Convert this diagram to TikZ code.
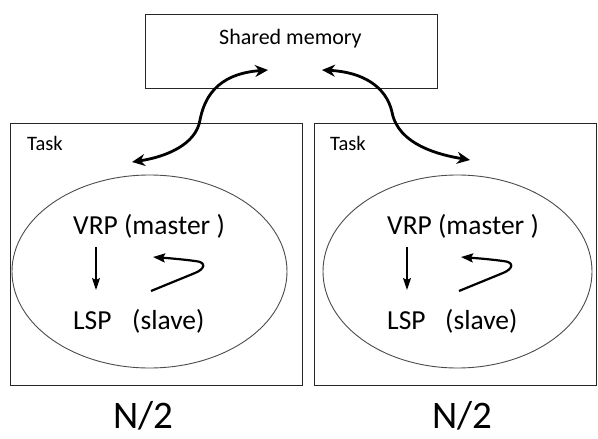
\documentclass[tikz,border=0pt]{standalone}
\usepackage{fontspec}
\setmainfont{Carlito}
\usetikzlibrary{arrows.meta,shapes.geometric}
\begin{document}
\begin{tikzpicture}[x=1pt,y=-1pt,
  box/.style={draw=black!85, line width=1.2pt, inner sep=0pt, anchor=north west},
  oval/.style={draw=black!70, line width=0.9pt, ellipse, inner sep=0pt},
  lbl/.style={anchor=base west, inner sep=0pt},
  bigarrow/.style={line width=2.8pt, {Stealth[length=13pt,width=12pt]}-{Stealth[length=13pt,width=12pt]}},
  downarrow/.style={line width=1.5pt, -{Stealth[length=12pt,width=8pt,inset=2pt]}},
  hookarrow/.style={line width=2.2pt, line join=round, -{Stealth[length=12pt,width=9pt,inset=2pt]}},
  smallfont/.style={font=\fontsize{20.5}{24}\selectfont},
  midfont/.style={font=\fontsize{27.5}{32}\selectfont},
  bigfont/.style={font=\fontsize{39}{46}\selectfont}]
\useasboundingbox (0,0) rectangle (598,439);
\fill[white] (0,0) rectangle (598,439);

% shared memory
\node[box, minimum width=292pt, minimum height=74pt] (shm) at (145,14) {};
\node[lbl, font=\fontsize{22}{26}\selectfont] (shmtext) at (219,45) {Shared memory};

% task boxes
\node[box, minimum width=292pt, minimum height=262pt] (taskL) at (10,123) {};
\node[box, minimum width=282pt, minimum height=262pt] (taskR) at (314,123) {};
\node[lbl, smallfont] (taskLtext) at (27,150) {Task};
\node[lbl, smallfont] (taskRtext) at (330,150) {Task};

% ellipses
\node[oval, minimum width=275pt, minimum height=193pt] (ovalL) at (149.5,271.5) {};
\node[oval, minimum width=269pt, minimum height=193pt] (ovalR) at (457.5,271.5) {};

% texts inside
\node[lbl, midfont] (vrpL) at (73,234) {VRP (master )};
\node[lbl, midfont] (lspL) at (73,329) {LSP};
\node[lbl, midfont] (slvL) at (132,329) {(slave)};
\node[lbl, midfont] (vrpR) at (387,234) {VRP (master )};
\node[lbl, midfont] (lspR) at (387,329) {LSP};
\node[lbl, midfont] (slvR) at (445,329) {(slave)};

% N/2
\node[lbl, bigfont] (nL) at (113,428) {N/2};
\node[lbl, bigfont] (nR) at (432,428) {N/2};

% arrow end points
\coordinate (s1) at (268,70);
\coordinate (t1) at (132,162);
\coordinate (s2) at (322,70);
\coordinate (t2) at (470,160);

\draw[bigarrow] (s1) .. controls (215,74) and (204,100) .. (200,120)
   .. controls (196,145) and (165,157) .. (t1);
\draw[bigarrow] (s2) .. controls (362,72) and (386,86) .. (392,112)
   .. controls (398,145) and (440,155) .. (t2);

% down arrows
\coordinate (d1a) at (96,247);
\coordinate (d1b) at (96,290);
\coordinate (d2a) at (407,247);
\coordinate (d2b) at (407,290);
\draw[downarrow] (d1a) -- (d1b);
\draw[downarrow] (d2a) -- (d2b);

% hook arrows
\coordinate (h1a) at (151,291);
\coordinate (h1b) at (153,257);
\coordinate (h2a) at (459,291);
\coordinate (h2b) at (461,257);
\draw[hookarrow] (h1a) -- (195,273) .. controls (205,269) and (207,262) .. (195,261)
   .. controls (180,259) and (166,258) .. (h1b);
\draw[hookarrow] (h2a) -- (503,273) .. controls (513,269) and (515,262) .. (503,261)
   .. controls (488,259) and (474,258) .. (h2b);
\end{tikzpicture}
\end{document}
